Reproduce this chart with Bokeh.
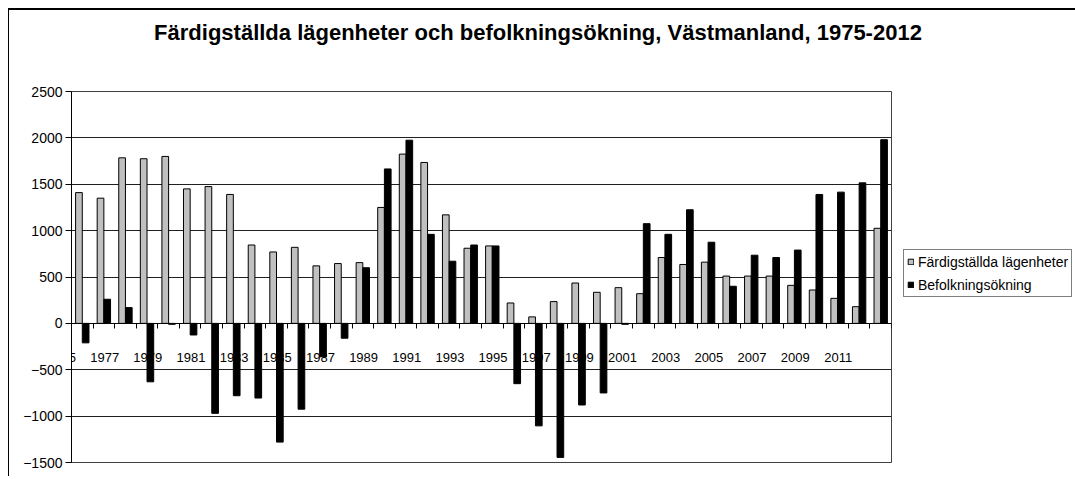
import numpy as np
from bokeh.plotting import figure
from bokeh.models import (ColumnDataSource, Range1d, LinearAxis, FixedTicker,
                          Label, LabelSet, Legend, LegendItem)
from bokeh.core.properties import value
from bokeh.transform import dodge
from bokeh.embed import file_html
from bokeh.resources import INLINE

# ---------------- data ----------------
years = list(range(1975, 2013))
lagenheter = [1410, 1350, 1785, 1775, 1800, 1450, 1475, 1390, 845, 770,
              820, 620, 645, 655, 1250, 1825, 1735, 1170, 810, 835,
              220, 70, 235, 435, 335, 385, 320, 710, 635, 660,
              510, 510, 510, 410, 360, 270, 180, 1025]
befolkning = [-210, 260, 170, -630, -10, -125, -970, -780, -805, -1280,
              -925, -360, -160, 600, 1665, 1975, 960, 670, 845, 835,
              -650, -1105, -1445, -880, -750, -10, 1075, 960, 1225, 875,
              400, 735, 710, 790, 1390, 1415, 1515, 1980]
tick_labels = [str(y) for y in years[::2]]
y_ticks = list(range(-1500, 2501, 500))
series_names = ["Färdigställda lägenheter", "Befolkningsökning"]
title_text = "Färdigställda lägenheter och befolkningsökning, Västmanland, 1975-2012"

n = len(years)
src = ColumnDataSource(dict(x=[i + 0.5 for i in range(n)], lag=lagenheter, bef=befolkning))
lab_src = ColumnDataSource(dict(x=list(range(0, n, 2)), y=[0] * len(tick_labels), text=tick_labels))

FONT = "Liberation Sans"

p = figure(frame_width=820, frame_height=371, output_backend="svg", toolbar_location=None,
           x_range=Range1d(0, n), y_range=Range1d(y_ticks[0], y_ticks[-1]),
           x_axis_location=None,
           min_border_left=62, min_border_right=184, min_border_top=81, min_border_bottom=14)
p.styles = {"margin-left": "8px", "margin-top": "8px",
            "border-left": "1px solid black", "border-top": "2px solid black"}
p.background_fill_color = "white"
p.border_fill_color = "white"
p.outline_line_color = "#404040"
p.outline_line_width = 1

# grid
p.xgrid.visible = False
p.ygrid.ticker = FixedTicker(ticks=y_ticks)
p.ygrid.grid_line_color = "#202020"
p.ygrid.grid_line_width = 1

# category axis drawn at y = 0 (tick marks only), labels via LabelSet
xa = LinearAxis(fixed_location=0,
                ticker=FixedTicker(ticks=list(range(n + 1))),
                major_label_overrides={i: "" for i in range(n + 1)})
xa.major_tick_out = 5
xa.major_tick_in = 0
xa.minor_tick_out = 0
xa.minor_tick_in = 0
xa.axis_line_color = "black"
xa.major_tick_line_color = "black"
xa.major_label_text_font_size = "1px"
p.add_layout(xa, "below")

labels = LabelSet(x="x", y="y", text="text", source=lab_src,
                  text_align="center", text_baseline="middle",
                  x_offset=-10, y_offset=-34,
                  text_font=value(FONT), text_font_size=value("13px"),
                  text_color="black")
p.add_layout(labels)

bw = 0.31
r1 = p.vbar(x=dodge("x", -bw / 2, range=p.x_range), top="lag", width=bw, source=src,
            fill_color="#c0c0c0", line_color="black", line_width=1)
r2 = p.vbar(x=dodge("x", bw / 2, range=p.x_range), top="bef", width=bw, source=src,
            fill_color="black", line_color="black", line_width=1)

# y axis
ya = p.yaxis[0]
ya.ticker = FixedTicker(ticks=y_ticks)
ya.major_tick_out = 6
ya.major_tick_in = 0
ya.minor_tick_out = 0
ya.minor_tick_in = 0
ya.axis_line_color = "black"
ya.major_tick_line_color = "black"
ya.major_label_standoff = 3
ya.major_label_text_font = FONT
ya.major_label_text_font_size = "14px"
ya.major_label_text_color = "black"

# legend (right panel)
legend = Legend(items=[LegendItem(label=series_names[0], renderers=[r1]),
                       LegendItem(label=series_names[1], renderers=[r2])],
                location=(12, 165), orientation="vertical")
legend.border_line_color = "black"
legend.border_line_width = 1
legend.background_fill_color = "white"
legend.background_fill_alpha = 1
legend.padding = 3
legend.spacing = 6
legend.margin = 0
legend.label_standoff = 4
legend.glyph_width = 7
legend.glyph_height = 7
legend.label_height = 17
legend.label_text_font = FONT
legend.label_text_font_size = "14px"
legend.label_text_color = "black"
legend.label_text_baseline = "middle"
p.add_layout(legend, "right")

# title (placed in the top panel so it is not clipped to the plot area)
title = Label(x=466.5, y=59, x_units="screen", y_units="screen", text=title_text,
              text_align="center", text_baseline="middle", text_font=FONT,
              text_font_style="bold", text_font_size="22px", text_color="black")
p.add_layout(title, "above")

open("out.html", "w").write(file_html(p, INLINE))
